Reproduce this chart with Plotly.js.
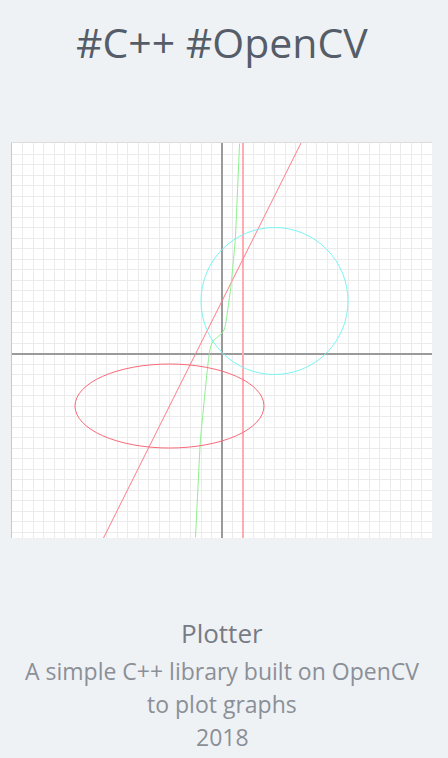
<!DOCTYPE html>
<html>
<head>
<meta charset="utf-8">
<script src="https://cdn.plot.ly/plotly-3.0.1.min.js"></script>
<style>
html,body{margin:0;padding:0;background:#eff2f5;}
#chart{width:448px;height:758px;}
</style>
</head>
<body>
<div id="chart"></div>
<script>
// Data, in grid units (one grid cell = 1 unit)
var xRange = [-20, 20];
var yRange = [-17.57, 20.05];

var vlineX = [2, 2];
var vlineY = [-18, 21];

var diagX = [-12, 8];
var diagY = [-19, 21];

var cubicX = [1.67, 1.45, 1.26, 1.05, 0.88, 0.65, 0.45, 0.3, 0.12, -0.1, -0.4, -0.7, -0.95, -1.12, -1.25, -1.4, -1.6, -1.82, -2.05, -2.3, -2.52];
var cubicY = [20.0, 14.9, 10.8, 8.5, 6.7, 4.9, 3.5, 2.6, 2.1, 1.85, 1.6, 1.35, 1.0, 0.5, -0.3, -1.6, -3.5, -5.8, -8.2, -13.0, -17.5];

var circleCenter = [5, 5];
var circleRadius = 7;

var ellipseCenter = [-5, -5];
var ellipseRadii = [9, 4];

var titleText = "#C++ #OpenCV";
var captionTexts = ["Plotter", "A simple C++ library built on OpenCV", "to plot graphs", "2018"];

var traces = [
  {x: vlineX, y: vlineY, mode: 'lines', line: {color: '#ffabb0', width: 2}, hoverinfo: 'skip'},
  {x: diagX, y: diagY, mode: 'lines', line: {color: '#ff7a86', width: 1}, hoverinfo: 'skip'},
  {x: cubicX, y: cubicY, mode: 'lines', line: {color: '#8ef08e', width: 1, shape: 'spline', smoothing: 0.8}, hoverinfo: 'skip'}
];

var plotTop = 143, plotBottom = 538, plotH = plotBottom - plotTop;
function py(p){ return (plotBottom - p) / plotH; }

var FONT = '"Open Sans", sans-serif';

var layout = {
  width: 448, height: 758,
  margin: {l: 12, r: 16, t: 143, b: 220, pad: 0},
  paper_bgcolor: '#eff2f5',
  plot_bgcolor: '#ffffff',
  showlegend: false,
  xaxis: {
    range: xRange, dtick: 1, tick0: 0, showticklabels: false, ticks: '',
    showgrid: true, gridcolor: '#ebebeb', gridwidth: 1,
    zeroline: true, zerolinecolor: '#9a9a9a', zerolinewidth: 2,
    showline: true, side: 'top', linecolor: '#dcdcdc', linewidth: 1,
    fixedrange: true
  },
  yaxis: {
    range: yRange, dtick: 1, tick0: 0, showticklabels: false, ticks: '',
    showgrid: true, gridcolor: '#ebebeb', gridwidth: 1,
    zeroline: true, zerolinecolor: '#9a9a9a', zerolinewidth: 2,
    showline: true, linecolor: '#c8c8c8', linewidth: 1,
    fixedrange: true
  },
  shapes: [
    {type: 'circle', xref: 'x', yref: 'y',
     x0: circleCenter[0] - circleRadius, x1: circleCenter[0] + circleRadius,
     y0: circleCenter[1] - circleRadius, y1: circleCenter[1] + circleRadius,
     line: {color: '#7af4f4', width: 1}},
    {type: 'circle', xref: 'x', yref: 'y',
     x0: ellipseCenter[0] - ellipseRadii[0], x1: ellipseCenter[0] + ellipseRadii[0],
     y0: ellipseCenter[1] - ellipseRadii[1], y1: ellipseCenter[1] + ellipseRadii[1],
     line: {color: '#f76a78', width: 1}}
  ],
  annotations: [
    {text: titleText, xref: 'paper', yref: 'paper', x: 0.5, y: py(42), xanchor: 'center', yanchor: 'middle',
     showarrow: false, font: {family: FONT, size: 41, color: '#555d69'}},
    {text: captionTexts[0], xref: 'paper', yref: 'paper', x: 0.5, y: py(633), xanchor: 'center', yanchor: 'middle',
     showarrow: false, font: {family: FONT, size: 26, color: '#777b84'}},
    {text: captionTexts[1], xref: 'paper', yref: 'paper', x: 0.5, y: py(671), xanchor: 'center', yanchor: 'middle',
     showarrow: false, font: {family: FONT, size: 23, color: '#8b8f97'}},
    {text: captionTexts[2], xref: 'paper', yref: 'paper', x: 0.5, y: py(704), xanchor: 'center', yanchor: 'middle',
     showarrow: false, font: {family: FONT, size: 23, color: '#8b8f97'}},
    {text: captionTexts[3], xref: 'paper', yref: 'paper', x: 0.5, y: py(737), xanchor: 'center', yanchor: 'middle',
     showarrow: false, font: {family: FONT, size: 23, color: '#8b8f97'}}
  ]
};

Plotly.newPlot('chart', traces, layout, {displayModeBar: false, staticPlot: true});
</script>
</body>
</html>
